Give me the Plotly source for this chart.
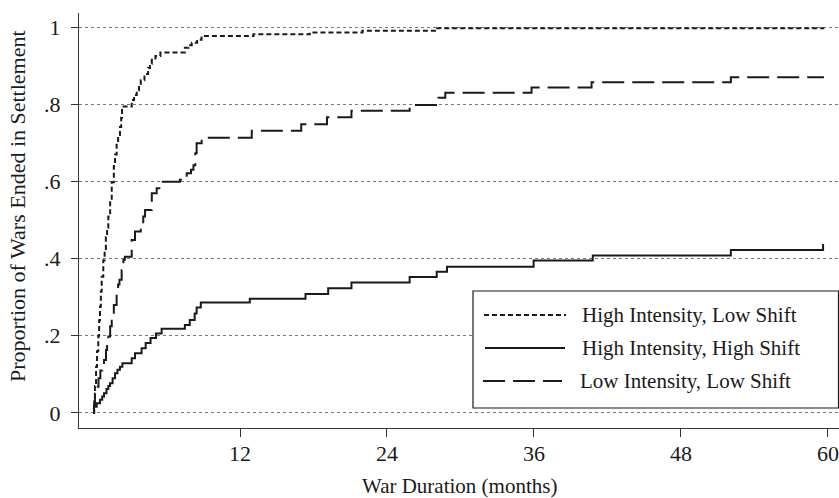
import plotly.graph_objects as go

# ---------------- data (step points: month, cumulative proportion) ----------------
series_names = ["High Intensity, Low Shift", "High Intensity, High Shift", "Low Intensity, Low Shift"]

hils_months = [0, 0.1, 0.16, 0.25, 0.33, 0.43, 0.5, 0.57, 0.64, 0.71, 0.84, 0.95, 1.05, 1.15, 1.25, 1.4,
               1.53, 1.7, 1.8, 1.93, 2.05, 2.2, 2.3, 2.37, 2.5, 3.16, 3.35, 3.57, 3.75, 3.9, 4.2, 4.5,
               4.65, 4.8, 5.1, 5.5, 7.5, 7.8, 8.06, 8.5, 8.86, 13.1, 17.7, 22.0, 28.0, 59.7]
hils_values = [0, 0.03, 0.07, 0.12, 0.16, 0.20, 0.24, 0.275, 0.315, 0.353, 0.396, 0.425, 0.455, 0.48, 0.509, 0.555,
               0.598, 0.64, 0.67, 0.70, 0.72, 0.741, 0.765, 0.785, 0.794, 0.811, 0.824, 0.836, 0.85, 0.862, 0.878, 0.894,
               0.905, 0.915, 0.925, 0.934, 0.946, 0.953, 0.959, 0.967, 0.977, 0.981, 0.986, 0.99, 0.997, 0.997]

hihs_months = [0, 0.08, 0.3, 0.57, 0.75, 0.9, 1.1, 1.25, 1.39, 1.6, 1.8, 2.0, 2.2, 2.4, 3.16, 3.43, 3.97,
               4.3, 4.7, 5.14, 5.6, 7.5, 7.9, 8.3, 8.46, 8.8, 12.8, 17.35, 19.2, 21.1, 25.85, 28.06,
               28.9, 35.97, 40.8, 52.07, 59.6]
hihs_values = [0, 0.016, 0.025, 0.034, 0.043, 0.051, 0.062, 0.07, 0.077, 0.09, 0.103, 0.112, 0.12, 0.129, 0.142, 0.155, 0.168,
               0.181, 0.194, 0.206, 0.218, 0.228, 0.241, 0.258, 0.273, 0.286, 0.296, 0.308, 0.323, 0.338, 0.352, 0.366,
               0.379, 0.395, 0.408, 0.422, 0.438]

lils_months = [0, 0.08, 0.16, 0.3, 0.45, 0.6, 0.75, 0.9, 1.06, 1.15, 1.25, 1.4, 1.53, 1.7, 1.93, 2.05, 2.16,
               2.34, 2.48, 2.6, 3.16, 3.43, 3.9, 4.1, 4.25, 4.8, 5.2, 5.6, 7.1, 7.65, 8.0, 8.2, 8.35, 8.46,
               8.87, 12.96, 17.0, 19.1, 21.1, 25.85, 28.2, 28.76, 35.8, 40.7, 52.07, 59.67]
lils_values = [0, 0.02, 0.05, 0.068, 0.09, 0.11, 0.125, 0.137, 0.163, 0.18, 0.198, 0.225, 0.249, 0.28, 0.319, 0.333, 0.345,
               0.37, 0.397, 0.405, 0.448, 0.47, 0.49, 0.509, 0.526, 0.569, 0.582, 0.599, 0.604, 0.621, 0.63, 0.642, 0.673, 0.699,
               0.713, 0.731, 0.748, 0.766, 0.783, 0.798, 0.817, 0.830, 0.843, 0.857, 0.870, 0.870]

x_tick_vals = [12, 24, 36, 48, 60]
x_tick_text = ["12", "24", "36", "48", "60"]
y_tick_vals = [0, 0.2, 0.4, 0.6, 0.8, 1.0]
y_tick_text = ["0", ".2", ".4", ".6", ".8", "1"]

x_title = "War Duration (months)"
y_title = "Proportion of Wars Ended in Settlement"

# ---------------- styling ----------------
W, H = 839, 498
ML, MR, MT, MB = 79, 0, 13, 70
PW, PH = W - ML - MR, H - MT - MB
FONT = "Liberation Serif, Times New Roman, serif"
INK = "#1a1a1a"

dash_styles = ["5px,3px", "solid", "22px,8px"]

def px2x(px):
    return (px - ML) / PW

def py2y(py):
    return (H - MB - py) / PH

fig = go.Figure()
for name, xs, ys, dash in [
    (series_names[0], hils_months, hils_values, dash_styles[0]),
    (series_names[1], hihs_months, hihs_values, dash_styles[1]),
    (series_names[2], lils_months, lils_values, dash_styles[2]),
]:
    fig.add_trace(go.Scatter(x=xs, y=ys, mode="lines", name=name, line_shape="hv",
                             line=dict(color=INK, width=2, dash=dash), showlegend=False))

shapes = []
annotations = []

# manual legend box
lx0, lx1, ly0, ly1 = 473, 838.5, 291, 408
shapes.append(dict(type="rect", xref="paper", yref="paper",
                   x0=px2x(lx0), x1=px2x(lx1), y0=py2y(ly1), y1=py2y(ly0),
                   line=dict(color=INK, width=1.2), fillcolor="white", layer="above"))
rows = [315, 348, 381]
sym_x = [(484, 566), (485, 565), (483, 562)]
text_x = [580, 580, 578]
for i in range(3):
    shapes.append(dict(type="line", xref="paper", yref="paper",
                       x0=px2x(sym_x[i][0]), x1=px2x(sym_x[i][1]),
                       y0=py2y(rows[i]), y1=py2y(rows[i]),
                       line=dict(color=INK, width=2, dash=dash_styles[i]), layer="above"))
    annotations.append(dict(xref="paper", yref="paper", x=px2x(text_x[i]), y=py2y(rows[i]),
                            text=series_names[i], showarrow=False, xanchor="left", yanchor="middle",
                            font=dict(family=FONT, size=21, color=INK)))

# axis titles
annotations.append(dict(xref="paper", yref="paper", x=px2x(460), y=py2y(485.5), text=x_title,
                        showarrow=False, xanchor="center", yanchor="middle",
                        font=dict(family=FONT, size=21, color=INK)))
annotations.append(dict(xref="paper", yref="paper", x=px2x(17), y=py2y(206), text=y_title,
                        showarrow=False, xanchor="center", yanchor="middle", textangle=-90,
                        font=dict(family=FONT, size=22, color=INK)))

fig.update_layout(
    width=W, height=H,
    margin=dict(l=ML, r=MR, t=MT, b=MB, pad=0),
    paper_bgcolor="white", plot_bgcolor="white",
    font=dict(family=FONT, size=22, color=INK),
    shapes=shapes, annotations=annotations,
    xaxis=dict(range=[-1.143, 60.9], tickvals=x_tick_vals, ticktext=x_tick_text,
               showgrid=False, zeroline=False, showline=True, linecolor="#333", linewidth=1.2,
               ticks="outside", ticklen=8, tickwidth=1.2, tickcolor="#333",
               ticklabelstandoff=-3, tickfont=dict(family=FONT, size=22, color=INK)),
    yaxis=dict(range=[-0.0389, 1.0363], tickvals=y_tick_vals, ticktext=y_tick_text,
               showgrid=True, gridcolor="#777", gridwidth=1, griddash="dot", zeroline=False,
               showline=True, linecolor="#333", linewidth=1.2,
               ticks="outside", ticklen=7, tickwidth=1.2, tickcolor="#333",
               ticklabelstandoff=6, tickfont=dict(family=FONT, size=22, color=INK)),
)

fig.write_html("out.html", config={"displayModeBar": False},
               post_script="document.body.style.margin='0';document.body.style.overflow='hidden';")
